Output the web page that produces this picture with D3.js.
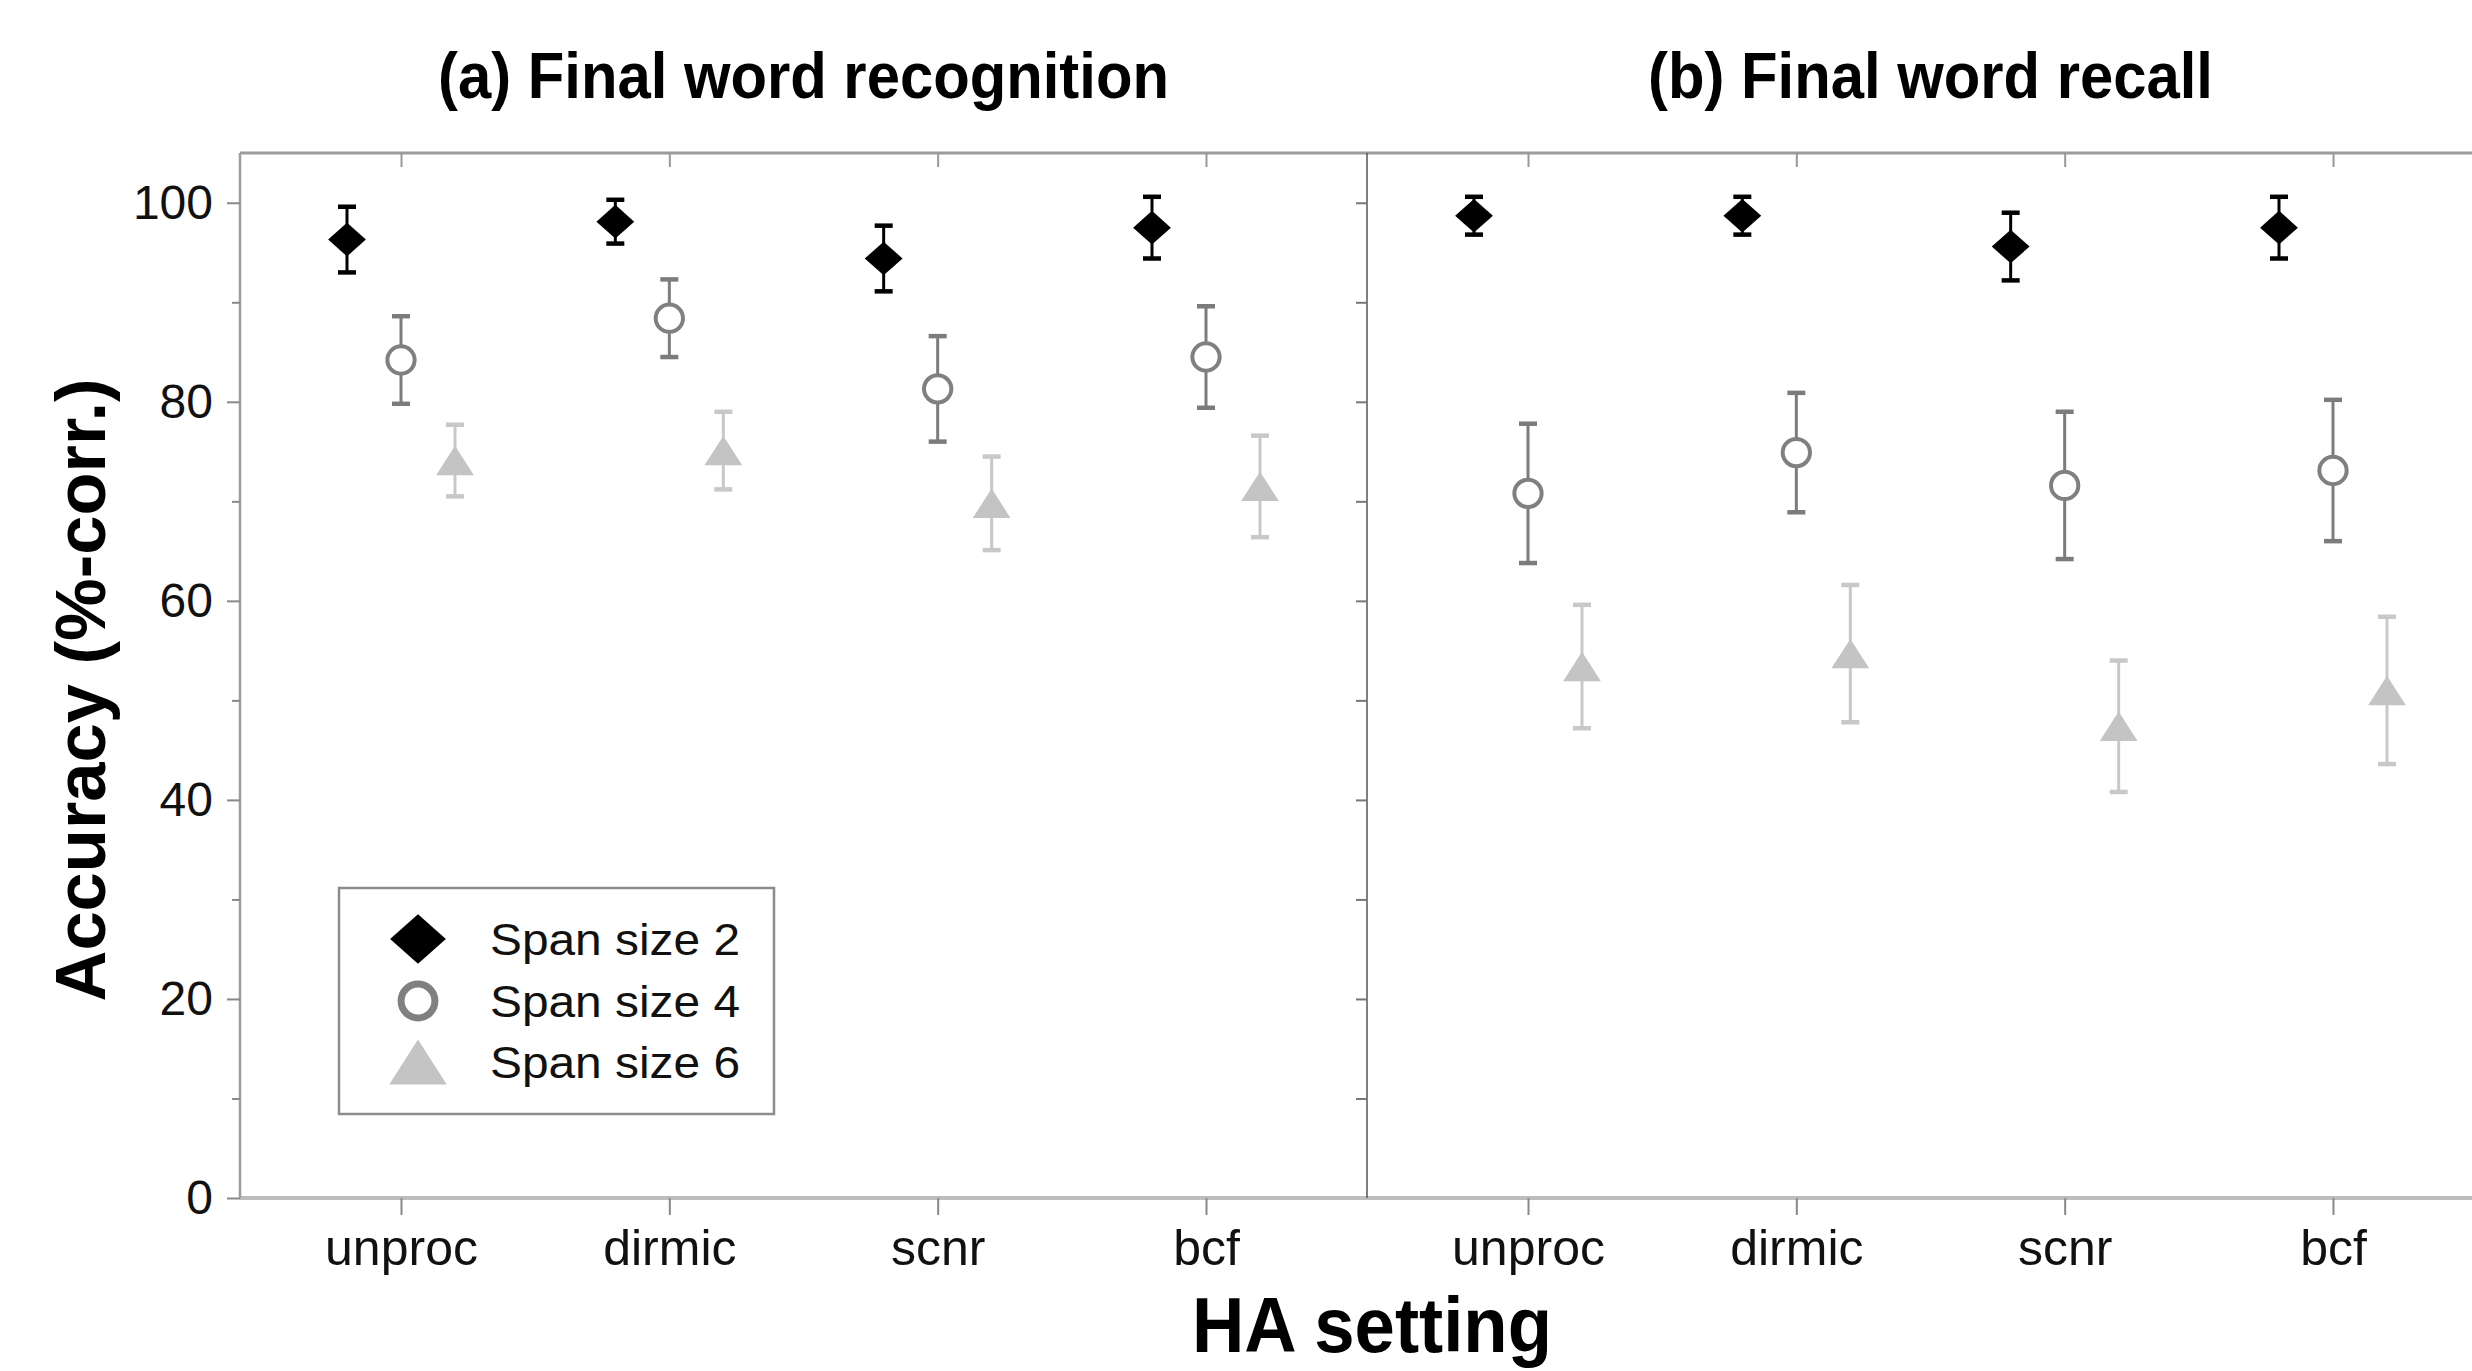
<!DOCTYPE html>
<html>
<head>
<meta charset="utf-8">
<script src="https://cdn.jsdelivr.net/npm/d3@7"></script>
<style>
  body { margin: 0; background: #fff; }
  svg { display: block; font-family: "Liberation Sans", Arial, sans-serif; }
</style>
</head>
<body>
<div id="chart"></div>
<script>
// categories and series
const categories = ["unproc", "dirmic", "scnr", "bcf"];
const seriesNames = ["Span size 2", "Span size 4", "Span size 6"];
const panelTitles = ["(a) Final word recognition", "(b) Final word recall"];
const yTicks = [0, 20, 40, 60, 80, 100];

// (a) recognition: means and error bar half-widths
const recogSpan2 = [96.3, 98.1, 94.4, 97.5];
const recogSpan2Err = [3.3, 2.2, 3.3, 3.1];
const recogSpan4 = [84.2, 88.4, 81.3, 84.5];
const recogSpan4Err = [4.4, 3.9, 5.3, 5.1];
const recogSpan6 = [74.1, 75.1, 69.8, 71.5];
const recogSpan6Err = [3.6, 3.9, 4.7, 5.1];

// (b) recall
const recallSpan2 = [98.7, 98.7, 95.6, 97.5];
const recallSpan2Err = [1.9, 1.9, 3.4, 3.1];
const recallSpan4 = [70.8, 74.9, 71.6, 73.1];
const recallSpan4Err = [7.0, 6.0, 7.4, 7.1];
const recallSpan6 = [53.4, 54.7, 47.4, 51.0];
const recallSpan6Err = [6.2, 6.9, 6.6, 7.4];

function chart() {
  const W = 2472, H = 1371;
  const left = 240, top = 153, bottom = 1198;
  const panelW = 1127;

  const fillColor = ["#000000", "#ffffff", "#c4c4c4"];
  const strokeColor = ["#000000", "#808080", "#c4c4c4"];
  const barColor = ["#000000", "#7c7c7c", "#c8c8c8"];

  const panels = [
    { title: panelTitles[0], means: [recogSpan2, recogSpan4, recogSpan6], errs: [recogSpan2Err, recogSpan4Err, recogSpan6Err] },
    { title: panelTitles[1], means: [recallSpan2, recallSpan4, recallSpan6], errs: [recallSpan2Err, recallSpan4Err, recallSpan6Err] }
  ];

  const svg = d3.select("#chart").append("svg")
    .attr("width", W).attr("height", H);

  const y = d3.scaleLinear().domain([0, 105]).range([bottom, top]);
  const offset = d3.scalePoint().domain(seriesNames).range([-54, 54]);

  // marker shapes
  const shapes = [
    s => `M0,${-16 * s}L${18 * s},0L0,${16 * s}L${-18 * s},0Z`,
    null,
    s => `M0,${-14 * s}L${18 * s},${14 * s}L${-18 * s},${14 * s}Z`
  ];

  function marker(g, i, s, sw) {
    if (i === 1) {
      g.append("circle").attr("r", 13 * s)
        .attr("fill", fillColor[i]).attr("stroke", strokeColor[i])
        .attr("stroke-width", sw);
    } else {
      g.append("path").attr("d", shapes[i](s)).attr("fill", fillColor[i]);
    }
  }

  // frame lines
  svg.append("line").attr("x1", left).attr("x2", W).attr("y1", top).attr("y2", top)
    .attr("stroke", "#9c9c9c").attr("stroke-width", 3);
  svg.append("line").attr("x1", left).attr("x2", W).attr("y1", bottom).attr("y2", bottom)
    .attr("stroke", "#bdbdbd").attr("stroke-width", 4);
  svg.append("line").attr("x1", left).attr("x2", left).attr("y1", top).attr("y2", bottom)
    .attr("stroke", "#9c9c9c").attr("stroke-width", 2.5);
  svg.append("line").attr("x1", left + panelW).attr("x2", left + panelW).attr("y1", top).attr("y2", bottom)
    .attr("stroke", "#555").attr("stroke-width", 1.5);

  // y axis, major + minor
  const yAxis = svg.append("g").attr("transform", `translate(${left},0)`)
    .call(d3.axisLeft(y).tickValues(yTicks).tickSize(13).tickPadding(14));
  yAxis.select(".domain").remove();
  yAxis.selectAll("line").attr("stroke", "#888").attr("stroke-width", 2);
  yAxis.selectAll("text").attr("font-size", 48).attr("fill", "#111")
    .attr("font-family", "Liberation Sans, Arial, sans-serif");

  const yMinor = svg.append("g").attr("transform", `translate(${left},0)`)
    .call(d3.axisLeft(y).tickValues([10, 30, 50, 70, 90]).tickSize(8).tickFormat(""));
  yMinor.select(".domain").remove();
  yMinor.selectAll("line").attr("stroke", "#888").attr("stroke-width", 2);

  // inner ticks on the divider
  const yDiv = svg.append("g").attr("transform", `translate(${left + panelW},0)`)
    .call(d3.axisLeft(y).tickValues(d3.range(10, 101, 10)).tickSize(11).tickFormat(""));
  yDiv.select(".domain").remove();
  yDiv.selectAll("line").attr("stroke", "#777").attr("stroke-width", 2);

  panels.forEach((p, pi) => {
    const x0 = left + pi * panelW;
    const x = d3.scalePoint().domain(categories).range([x0, x0 + panelW]).padding(0.6);

    const xAxis = svg.append("g").attr("transform", `translate(0,${bottom})`)
      .call(d3.axisBottom(x).tickSize(17).tickPadding(14));
    xAxis.select(".domain").remove();
    xAxis.selectAll("line").attr("stroke", "#888").attr("stroke-width", 2);
    xAxis.selectAll("text").attr("font-size", 50).attr("fill", "#111")
      .attr("font-family", "Liberation Sans, Arial, sans-serif");

    const xTop = svg.append("g").attr("transform", `translate(0,${top})`)
      .call(d3.axisBottom(x).tickSize(14).tickFormat(""));
    xTop.select(".domain").remove();
    xTop.selectAll("line").attr("stroke", "#999").attr("stroke-width", 2);

    // panel title
    const t = svg.append("text")
      .attr("x", x0 + panelW / 2).attr("y", 98)
      .attr("text-anchor", "middle").attr("font-size", 65).attr("font-weight", "bold")
      .text(p.title);
    t.attr("textLength", t.node().getComputedTextLength() * 0.92).attr("lengthAdjust", "spacingAndGlyphs");

    seriesNames.forEach((s, si) => {
      const rows = categories.map((c, ci) => ({ c, m: p.means[si][ci], e: p.errs[si][ci] }));
      const g = svg.append("g");
      const bars = g.selectAll("g.bar").data(rows).enter().append("g")
        .attr("transform", d => `translate(${x(d.c) + offset(s)},0)`)
        .attr("stroke", barColor[si]);
      bars.append("line").attr("y1", d => y(d.m - d.e)).attr("y2", d => y(d.m + d.e))
        .attr("stroke-width", 3);
      bars.append("line").attr("x1", -9).attr("x2", 9)
        .attr("y1", d => y(d.m + d.e)).attr("y2", d => y(d.m + d.e)).attr("stroke-width", 4.5);
      bars.append("line").attr("x1", -9).attr("x2", 9)
        .attr("y1", d => y(d.m - d.e)).attr("y2", d => y(d.m - d.e)).attr("stroke-width", 4.5);

      rows.forEach(d => {
        const mg = g.append("g").attr("transform", `translate(${x(d.c) + offset(s)},${y(d.m)})`);
        marker(mg, si, 1.05, 4);
      });
    });
  });

  // legend
  const legend = svg.append("g").attr("transform", "translate(339,888)");
  legend.append("rect").attr("width", 435).attr("height", 226)
    .attr("fill", "#fff").attr("stroke", "#8c8c8c").attr("stroke-width", 2.5);
  const rowY = [51, 113, 174];
  seriesNames.forEach((s, i) => {
    const mg = legend.append("g").attr("transform", `translate(79,${rowY[i]})`);
    marker(mg, i, i === 1 ? 1.3 : (i === 0 ? 1.55 : 1.6), 7);
    legend.append("text").attr("x", 151).attr("y", rowY[i] + 16)
      .attr("font-size", 45).attr("fill", "#111")
      .attr("textLength", 250).attr("lengthAdjust", "spacingAndGlyphs")
      .text(s);
  });

  // axis titles
  const yt = svg.append("text")
    .attr("transform", "translate(105,690) rotate(-90)")
    .attr("text-anchor", "middle").attr("font-size", 70).attr("font-weight", "bold")
    .text("Accuracy (%-corr.)");
  yt.attr("textLength", 623).attr("lengthAdjust", "spacingAndGlyphs");

  const xt = svg.append("text")
    .attr("x", 1372).attr("y", 1352)
    .attr("text-anchor", "middle").attr("font-size", 78).attr("font-weight", "bold")
    .text("HA setting");
  xt.attr("textLength", xt.node().getComputedTextLength() * 0.93).attr("lengthAdjust", "spacingAndGlyphs");
}

window.onload = function() {
  chart();
};
</script>
</body>
</html>
